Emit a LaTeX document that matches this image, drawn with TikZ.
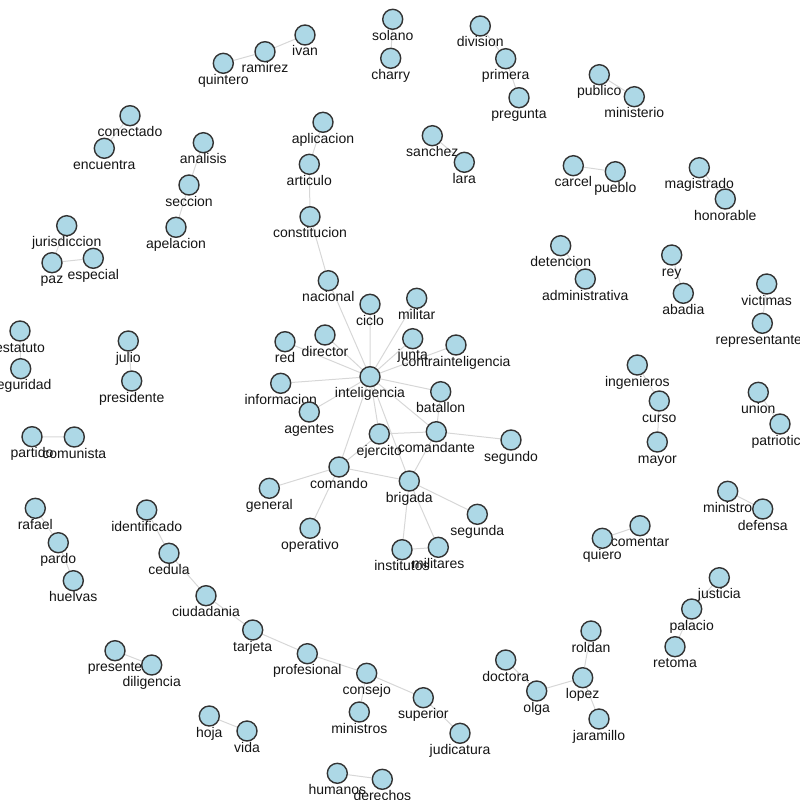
\documentclass[tikz,border=0pt]{standalone}
\usepackage{fontspec}
\setmainfont{Liberation Sans}
\usetikzlibrary{backgrounds}
\definecolor{nodefill}{RGB}{173,216,230}
\definecolor{nodeedge}{RGB}{51,51,51}
\definecolor{linkcol}{RGB}{215,215,215}
\definecolor{txtcol}{RGB}{20,20,20}
\tikzset{
  dot/.style={circle,minimum size=20pt,inner sep=0pt,fill=nodefill,draw=nodeedge,line width=1.4pt},
  lbl/.style={anchor=base,inner sep=0pt,text=txtcol,font=\fontsize{14}{16}\selectfont},
  link/.style={draw=linkcol,line width=1pt}
}
\newcommand\wn[3]{\node[dot] (#1) at (#2,#3) {}; \node[lbl] at ([yshift=-21pt]#1.center) {#1};}
\begin{document}
\begin{tikzpicture}[x=1pt,y=-1pt]
\useasboundingbox (0,0) rectangle (800,800);
\clip (0,0) rectangle (800,800);
% top-left
\wn{ivan}{305}{35}
\wn{ramirez}{265}{51.7}
\wn{quintero}{223.3}{63.3}
\wn{solano}{392.7}{19.3}
\wn{charry}{390.7}{58.3}
\wn{conectado}{130}{115.7}
\wn{encuentra}{104.3}{148.3}
\wn{analisis}{203.3}{142.7}
\wn{seccion}{189}{185}
\wn{apelacion}{176}{227.3}
\wn{aplicacion}{323}{122.3}
\wn{articulo}{309.3}{164.3}
\wn{constitucion}{310}{216.7}
\wn{jurisdiccion}{66.7}{225.7}
\wn{paz}{52}{262.7}
\wn{especial}{93.3}{258.3}
% top-right
\wn{division}{480.3}{26}
\wn{primera}{505.7}{58.7}
\wn{pregunta}{519}{97.7}
\wn{publico}{599.3}{74.7}
\wn{ministerio}{634.3}{96.7}
\wn{sanchez}{432.3}{135.7}
\wn{lara}{464.3}{162.3}
\wn{carcel}{573.3}{165.7}
\wn{pueblo}{615.3}{171.7}
\wn{magistrado}{699.3}{167.7}
\wn{honorable}{725.3}{199}
\wn{detencion}{560.7}{245.7}
\wn{administrativa}{585.3}{279}
\wn{rey}{671.7}{255}
\wn{abadia}{683.3}{293.3}
\wn{victimas}{766.7}{284}
\wn{representantes}{762.3}{323.3}
\wn{ingenieros}{637.3}{365}
\wn{curso}{659.3}{401}
\wn{mayor}{657.3}{442}
\wn{union}{758.3}{392.3}
\wn{patriotica}{780}{424}
\wn{ministro}{727.7}{491.3}
\wn{defensa}{762.7}{509}
\wn{comentar}{640}{525.7}
\wn{quiero}{602.3}{538.3}
% center cluster
\wn{nacional}{328.3}{280.7}
\wn{ciclo}{370}{304.3}
\wn{militar}{416.7}{298.3}
\wn{red}{285}{341.7}
\wn{director}{325}{335}
\wn{junta}{412.7}{338.7}
\wn{contrainteligencia}{456}{345}
\wn{inteligencia}{370}{376.7}
\wn{informacion}{280.7}{383.3}
\wn{agentes}{309.3}{412}
\wn{batallon}{440.7}{391.7}
\wn{ejercito}{379.3}{434}
\wn{comandante}{436.3}{431.7}
\wn{segundo}{511}{440}
\wn{comando}{339}{467}
\wn{brigada}{409.3}{481}
\wn{general}{269.3}{488.3}
\wn{segunda}{477.3}{514.3}
\wn{operativo}{310}{528.3}
\wn{institutos}{402}{549.7}
\wn{militares}{438.3}{547.3}
% left
\wn{estatuto}{20}{331}
\wn{seguridad}{20.7}{368.7}
\wn{julio}{128.3}{341}
\wn{presidente}{131.7}{381}
\wn{partido}{32}{436.7}
\wn{comunista}{74.3}{437}
\wn{rafael}{35.3}{508.3}
\wn{pardo}{58.3}{542.7}
\wn{huelvas}{73.3}{580.7}
\wn{identificado}{146.7}{510}
\wn{cedula}{169}{553.3}
% bottom
\wn{ciudadania}{206}{595.7}
\wn{tarjeta}{252.7}{630}
\wn{profesional}{307.3}{653.7}
\wn{consejo}{366.7}{673.3}
\wn{superior}{423.3}{697.7}
\wn{ministros}{359.3}{712}
\wn{judicatura}{460}{733.3}
\wn{presente}{115}{650.7}
\wn{diligencia}{151.7}{665}
\wn{hoja}{209.3}{716}
\wn{vida}{247}{731}
\wn{humanos}{337.3}{773.3}
\wn{derechos}{382.3}{779.3}
\wn{justicia}{719.3}{577.7}
\wn{palacio}{691.7}{609}
\wn{retoma}{675}{646.7}
\wn{roldan}{591}{631}
\wn{doctora}{505.7}{660}
\wn{lopez}{582.7}{677.7}
\wn{olga}{536.7}{691}
\wn{jaramillo}{599}{719}
\begin{pgfonlayer}{background}
\path[link]
 (ivan)--(ramirez) (ramirez)--(quintero) (solano)--(charry)
 (conectado)--(encuentra) (analisis)--(seccion) (seccion)--(apelacion)
 (aplicacion)--(articulo) (articulo)--(constitucion) (constitucion)--(nacional)
 (jurisdiccion)--(paz) (paz)--(especial)
 (division)--(primera) (primera)--(pregunta) (publico)--(ministerio)
 (sanchez)--(lara) (carcel)--(pueblo) (magistrado)--(honorable)
 (detencion)--(administrativa) (rey)--(abadia) (victimas)--(representantes)
 (ingenieros)--(curso) (curso)--(mayor) (union)--(patriotica)
 (ministro)--(defensa) (quiero)--(comentar)
 (nacional)--(inteligencia) (ciclo)--(inteligencia) (militar)--(inteligencia)
 (red)--(inteligencia) (director)--(inteligencia) (junta)--(inteligencia)
 (contrainteligencia)--(inteligencia) (informacion)--(inteligencia)
 (agentes)--(inteligencia) (batallon)--(inteligencia)
 (inteligencia)--(comandante) (inteligencia)--(ejercito)
 (inteligencia)--(brigada) (inteligencia)--(comando)
 (batallon)--(comandante) (ejercito)--(comandante) (comandante)--(segundo)
 (comandante)--(brigada) (ejercito)--(comando) (comando)--(general)
 (comando)--(brigada) (comando)--(operativo) (brigada)--(segunda)
 (brigada)--(institutos) (brigada)--(militares) (institutos)--(militares)
 (estatuto)--(seguridad) (julio)--(presidente) (partido)--(comunista)
 (rafael)--(pardo) (pardo)--(huelvas) (identificado)--(cedula) (cedula)--(ciudadania)
 (ciudadania)--(tarjeta) (tarjeta)--(profesional) (profesional)--(consejo)
 (consejo)--(superior) (consejo)--(ministros) (superior)--(judicatura)
 (presente)--(diligencia) (hoja)--(vida) (humanos)--(derechos)
 (justicia)--(palacio) (palacio)--(retoma) (roldan)--(lopez)
 (doctora)--(olga) (olga)--(lopez) (lopez)--(jaramillo);
\end{pgfonlayer}
\end{tikzpicture}
\end{document}
